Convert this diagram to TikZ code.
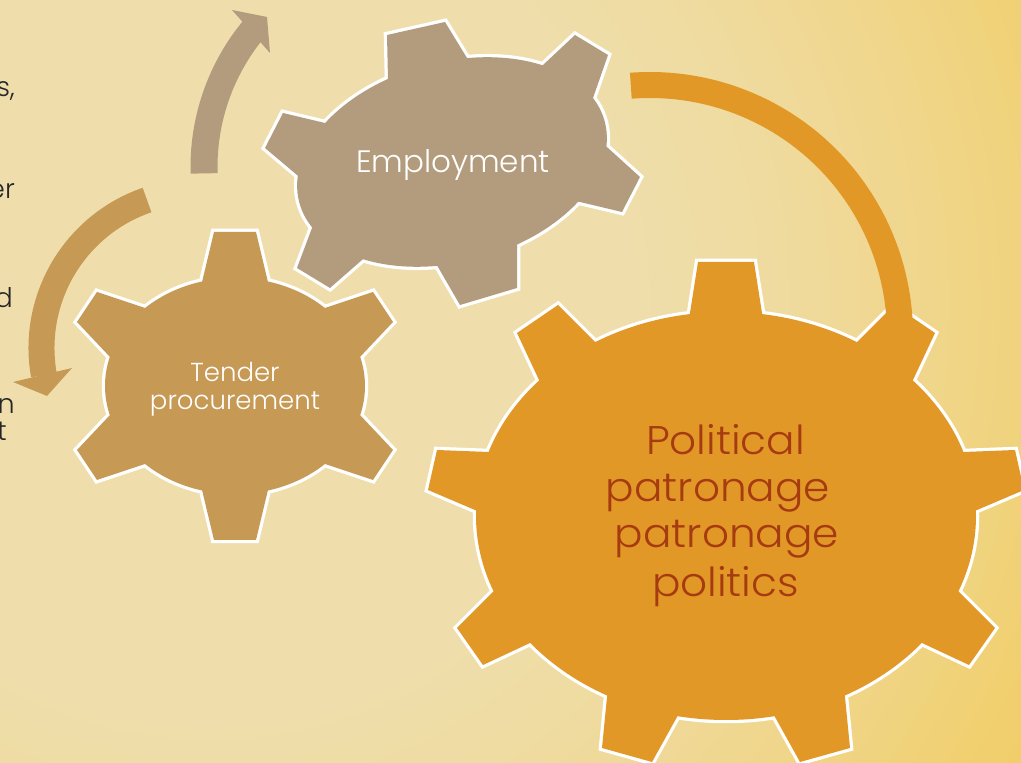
\documentclass[tikz,border=0pt]{standalone}
\usepackage{fontspec}
\usetikzlibrary{calc}
\IfFontExistsTF{Poppins Light}
  {\newfontfamily\gearfont{Poppins Light}
   \newfontfamily\gearfontwide{Poppins Light}[FakeStretch=1.055]}
  {\newfontfamily\gearfont{Poppins}
   \newfontfamily\gearfontwide{Poppins}[FakeStretch=1.055]}

\definecolor{bgA}{RGB}{239,222,172}
\definecolor{bgC}{RGB}{242,199,76}
\definecolor{tenderC}{RGB}{198,154,85}
\definecolor{employC}{RGB}{179,156,125}
\definecolor{politC}{RGB}{226,152,38}
\definecolor{politText}{RGB}{166,58,16}
\definecolor{sideText}{RGB}{38,38,38}

% one tooth: tip corners #2,#3 with their base corners #4,#5, pushed into the body
\newcommand\gtooth[5]{%
  \path[#1] ($(#2)!1.6!(#4)$) -- (#2) -- (#3) -- ($(#3)!1.6!(#5)$) -- cycle;}

\newcommand\tenderparts[1]{%
  \path[#1] (235,386) ellipse[x radius=130, y radius=108];
  \gtooth{#1}{214,232}{256,232}{203,278}{267,278}
  \gtooth{#1}{373,292}{393,322}{328,307}{360,357}
  \gtooth{#1}{393,450}{373,480}{360,415}{328,465}
  \gtooth{#1}{256,540}{214,540}{267,494}{203,494}
  \gtooth{#1}{97,480}{77,450}{142,465}{110,415}
  \gtooth{#1}{77,322}{97,292}{110,357}{142,307}}

\newcommand\employparts[1]{%
  \path[#1, rotate around={-14.8:(452,162)}] (452,162) ellipse[x radius=158, y radius=100];
  \gtooth{#1}{387,35}{445,22}{388,80}{467,58}
  \gtooth{#1}{575,35}{608,55}{543,65}{593,98}
  \gtooth{#1}{640,177}{622,212}{608,148}{580,202}
  \gtooth{#1}{517,288}{460,305}{517,245}{438,267}
  \gtooth{#1}{330,288}{297,268}{362,260}{312,228}
  \gtooth{#1}{265,148}{283,113}{297,175}{325,123}}

\newcommand\politparts[1]{%
  \path[#1] (726,516) ellipse[x radius=250, y radius=204];
  \gtooth{#1}{698,262}{754,262}{690,313}{762,313}
  \gtooth{#1}{517,333}{558,305}{539,380}{595,342}
  \gtooth{#1}{437,450}{428,490}{488,452}{475,510}
  \gtooth{#1}{457,628}{483,665}{493,592}{530,643}
  \gtooth{#1}{602,748}{652,762}{607,697}{677,717}
  \gtooth{#1}{850,748}{800,762}{845,697}{775,717}
  \gtooth{#1}{995,628}{969,665}{959,592}{922,643}
  \gtooth{#1}{1015,450}{1024,490}{964,452}{977,510}
  \gtooth{#1}{935,333}{894,305}{913,380}{857,342}}

\tikzset{
  gearrim/.style={draw=white, line width=6.5pt, line join=miter, miter limit=10},
  shaft/.style={line width=#1},
  gearlabel/.style={inner sep=0pt, anchor=base, text=white,
    font=\gearfont\fontsize{#1}{#1}\selectfont},
  politlabel/.style={inner sep=0pt, anchor=base, text=politText,
    font=\gearfontwide\fontsize{40}{40}\selectfont},
  sidelabel/.style={inner sep=0pt, anchor=base east, text=sideText,
    font=\gearfont\fontsize{27}{27}\selectfont}
}

\begin{document}
\begin{tikzpicture}[x=1pt, y=1pt]
\useasboundingbox (0,0) rectangle (1021,763);
\clip (0,0) rectangle (1021,763);
\begin{scope}[shift={(0,763)}, yscale=-1]
  % backdrop: cream in the upper left, warming to gold towards the right
  \fill[bgC] (0,0) rectangle (1021,763);
  \foreach \r in {1300,1290,...,390} {
    \pgfmathtruncatemacro\p{100*(min(1,(\r-380)/700))^1.5}
    \fill[bgC!\p!bgA] (210,300) circle[radius=\r];
  }

  % line ends of the text column on the left
  \node[sidelabel] (side1) at (15,97) {s,};
  \node[sidelabel] (side2) at (15,199) {er};
  \node[sidelabel] (side3) at (13,308) {d};
  \node[sidelabel] (side4) at (15,414) {n};
  \node[sidelabel] (side5) at (7,441) {t};

  % gears: white rim first, then the fill over it
  \tenderparts{gearrim}
  \tenderparts{fill=tenderC}
  \employparts{gearrim}
  \employparts{fill=employC}
  \politparts{gearrim}
  \politparts{fill=politC}

  % curved arrows
  \draw[shaft=27pt, employC] (420,167) ++(-181.7:216) arc[start angle=-181.7, end angle=-140.5, radius=216];
  \fill[employC] (232,10) -- (267,17) -- (270,53) -- cycle;

  \draw[shaft=26pt, tenderC] (198,348) ++(-109:156.5) arc[start angle=-109, end angle=-190, radius=156.5];
  \fill[tenderC] (13,382) -- (47,396) -- (72,368) -- cycle;

  \draw[shaft=26pt, politC] (650,335) ++(-94.4:250) arc[start angle=-94.4, end angle=3, radius=250];

  % labels
  \node[gearlabel=31] (employ) at (453,173) {Employment};
  \node[gearlabel=26] (tender1) at (235,381.5) {Tender};
  \node[gearlabel=26] (tender2) at (235,410) {procurement};
  \node[politlabel] (polit1) at (725.5,455) {Political};
  \node[politlabel] (polit2) at (718,501.5) {patronage};
  \node[politlabel] (polit3) at (727,548) {patronage};
  \node[politlabel] (polit4) at (725.5,596.5) {politics};
\end{scope}
\end{tikzpicture}
\end{document}
